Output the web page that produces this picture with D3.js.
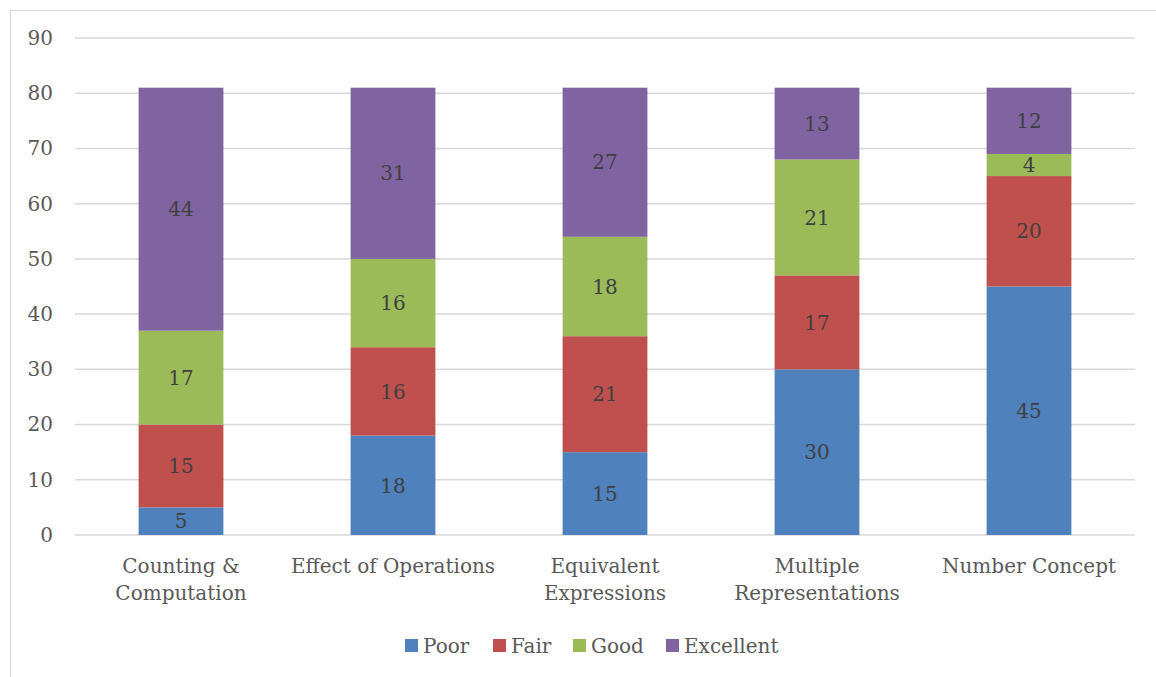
<!DOCTYPE html>
<html>
<head>
<meta charset="utf-8">
<script src="https://cdn.jsdelivr.net/npm/d3@7"></script>
<style>
  body { margin: 0; background: #fff; }
  text { font-family: "DejaVu Serif", serif; }
</style>
</head>
<body>
<svg id="chart" width="1156" height="677"></svg>
<script>
const categories = [["Counting &", "Computation"], ["Effect of Operations"], ["Equivalent", "Expressions"], ["Multiple", "Representations"], ["Number Concept"]];
const seriesNames = ["Poor", "Fair", "Good", "Excellent"];
const poor = [5, 18, 15, 30, 45];
const fair = [15, 16, 21, 17, 20];
const good = [17, 16, 18, 21, 4];
const excellent = [44, 31, 27, 13, 12];
const yTicks = [0, 10, 20, 30, 40, 50, 60, 70, 80, 90];
const colors = ["#4F81BD", "#C0504D", "#9BBB59", "#8064A2"];

const svg = d3.select("#chart");

// chart frame
svg.append("rect")
    .attr("x", 10.5).attr("y", 10.5)
    .attr("width", 1160).attr("height", 680)
    .attr("fill", "none")
    .attr("stroke", "#d9d9d9");

const rows = categories.map((c, i) => ({
    key: i, Poor: poor[i], Fair: fair[i], Good: good[i], Excellent: excellent[i]
}));

const x = d3.scaleBand()
    .domain(d3.range(categories.length))
    .range([75, 1135])
    .paddingInner(0.6)
    .paddingOuter(0.3);

const y = d3.scaleLinear()
    .domain([0, 90])
    .range([535, 38]);

// gridlines
svg.append("g")
    .selectAll("line")
    .data(yTicks)
    .enter()
    .append("line")
    .attr("x1", 75).attr("x2", 1135)
    .attr("y1", d => y(d)).attr("y2", d => y(d))
    .attr("stroke", "#d9d9d9")
    .attr("stroke-width", 1.5);

const yAxis = d3.axisLeft(y).tickValues(yTicks).tickSize(0).tickPadding(0);
svg.append("g")
    .attr("transform", "translate(53,0)")
    .call(yAxis)
    .call(g => g.select(".domain").remove())
    .selectAll("text")
    .attr("fill", "#595959")
    .style("font-size", "20px");

const stack = d3.stack().keys(seriesNames);
const layers = stack(rows);

const layer = svg.selectAll(".layer")
    .data(layers)
    .enter()
    .append("g")
    .attr("class", "layer")
    .attr("fill", (d, i) => colors[i]);

layer.selectAll("rect")
    .data(d => d)
    .enter()
    .append("rect")
    .attr("x", d => x(d.data.key))
    .attr("y", d => y(d[1]))
    .attr("width", x.bandwidth())
    .attr("height", d => y(d[0]) - y(d[1]));

layer.selectAll("text")
    .data(d => d)
    .enter()
    .append("text")
    .attr("x", d => x(d.data.key) + x.bandwidth() / 2)
    .attr("y", d => (y(d[0]) + y(d[1])) / 2)
    .attr("dy", "0.36em")
    .attr("text-anchor", "middle")
    .attr("fill", "#404040")
    .style("font-size", "20px")
    .text(d => d[1] - d[0]);

// category labels
const xLabels = svg.append("g")
    .selectAll("text")
    .data(categories)
    .enter()
    .append("text")
    .attr("x", (d, i) => x(i) + x.bandwidth() / 2)
    .attr("y", 573)
    .attr("text-anchor", "middle")
    .attr("fill", "#595959")
    .style("font-size", "20px");

xLabels.selectAll("tspan")
    .data(d => d)
    .enter()
    .append("tspan")
    .attr("x", function () { return this.parentNode.getAttribute("x"); })
    .attr("dy", (d, i) => i === 0 ? 0 : 27)
    .text(d => d);

// legend
const legend = svg.append("g");
const legendX = [405, 493, 573, 666];
const items = legend.selectAll("g")
    .data(seriesNames)
    .enter()
    .append("g")
    .attr("transform", (d, i) => `translate(${legendX[i]},0)`);
items.append("rect")
    .attr("x", 0).attr("y", 639)
    .attr("width", 13).attr("height", 13)
    .attr("fill", (d, i) => colors[i]);
items.append("text")
    .attr("x", 18).attr("y", 653)
    .attr("fill", "#595959")
    .style("font-size", "20px")
    .text(d => d);
</script>
</body>
</html>
